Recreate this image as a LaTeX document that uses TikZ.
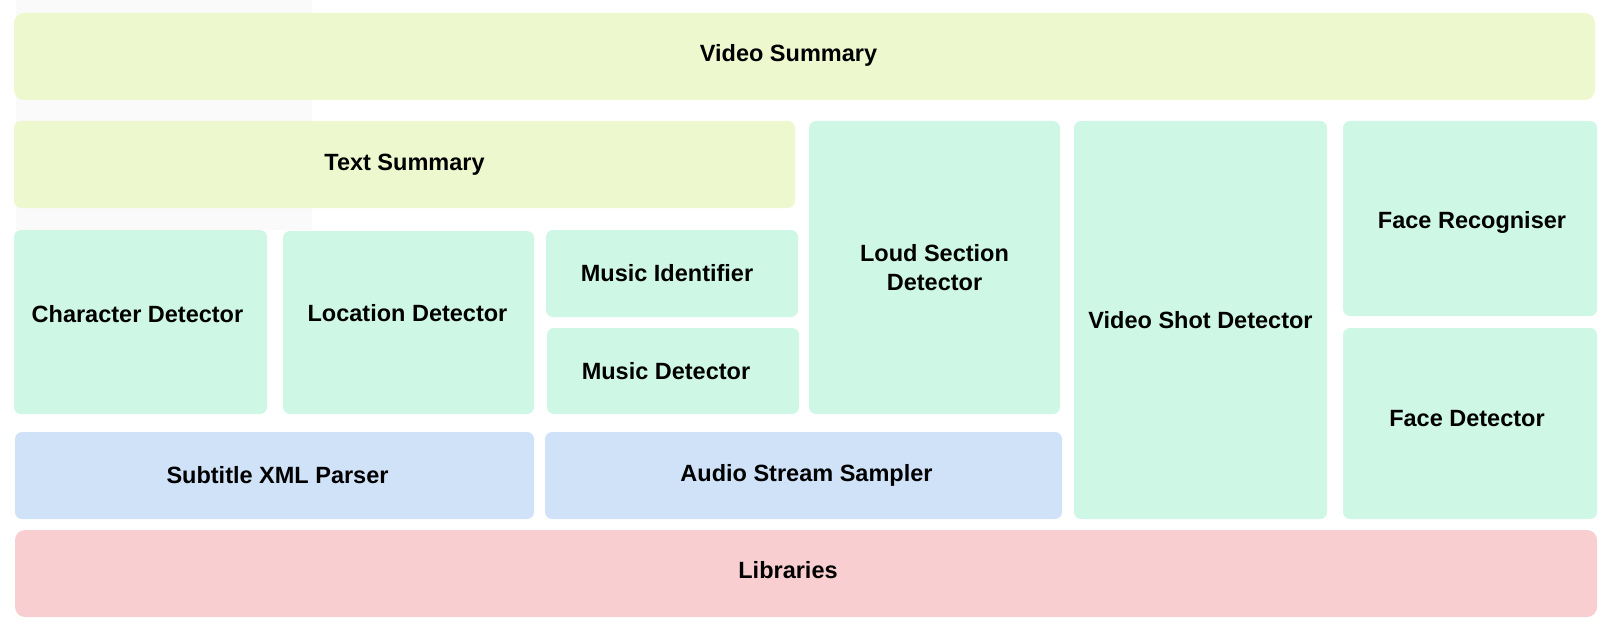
\documentclass[tikz,border=0pt]{standalone}
\usepackage{fontspec}
\setmainfont{Liberation Sans}
\definecolor{summarycol}{RGB}{238,248,207}
\definecolor{detectcol}{RGB}{207,247,229}
\definecolor{parsecol}{RGB}{207,226,248}
\definecolor{libcol}{RGB}{248,206,208}
\newcommand{\nudge}[3]{\raisebox{#2}[\height][\depth]{\hspace*{#1}\hspace*{#1}#3}}

\begin{document}
\begin{tikzpicture}[x=1pt,y=-1pt,block/.style={anchor=north west,inner sep=0pt,outer sep=0pt,rounded corners=7pt,align=center,font=\fontsize{23.5}{29}\selectfont\bfseries},summary/.style={block,fill=summarycol},detect/.style={block,fill=detectcol},parse/.style={block,fill=parsecol},lib/.style={block,fill=libcol,rounded corners=10pt}]

            \useasboundingbox (0,0) rectangle (1608,631);
            \fill[black!2] (16,0) rectangle (312,230);

            \node[summary, rounded corners=10pt, minimum width=1581, minimum height=87] (1) at (14,13) {\nudge{-16pt}{1pt}{Video Summary}};
            \node[summary, minimum width=781, minimum height=87] (2) at (14,121) {Text Summary};
            \node[detect, minimum width=253, minimum height=184] (3) at (14,230) {\nudge{-3pt}{8pt}{Character Detector}};
            \node[detect, minimum width=251, minimum height=183] (4) at (283,231) {\nudge{-1pt}{9pt}{Location Detector}};
            \node[detect, minimum width=252, minimum height=87] (5) at (546,230) {\nudge{-5pt}{0pt}{Music Identifier}};
            \node[detect, minimum width=252, minimum height=86] (6) at (547,328) {\nudge{-7pt}{0pt}{Music Detector}};
            \node[detect, minimum width=251, minimum height=293] (7) at (809,121) {Loud Section\\Detector};
            \node[detect, minimum width=253, minimum height=398] (8) at (1074,121) {Video Shot Detector};
            \node[detect, minimum width=254, minimum height=195] (9) at (1343,121) {\nudge{2pt}{-4pt}{Face Recogniser}};
            \node[detect, minimum width=254, minimum height=191] (10) at (1343,328) {\nudge{-3pt}{5pt}{Face Detector}};
            \node[parse, minimum width=519, minimum height=87] (11) at (15,432) {\nudge{3pt}{0pt}{Subtitle XML Parser}};
            \node[parse, minimum width=517, minimum height=87] (12) at (545,432) {\nudge{3pt}{0pt}{Audio Stream Sampler}};
            \node[lib, minimum width=1582, minimum height=87] (13) at (15,530) {\nudge{-18pt}{3pt}{Libraries}};

        \end{tikzpicture}
\end{document}
